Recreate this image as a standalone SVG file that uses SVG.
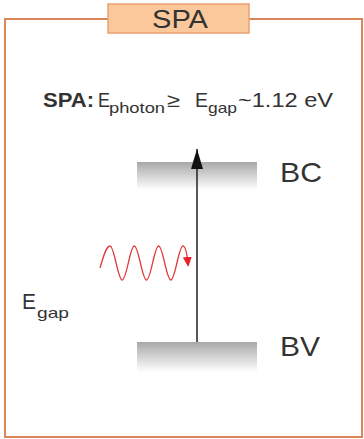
<svg xmlns="http://www.w3.org/2000/svg" width="364" height="439" viewBox="0 0 364 439">
<defs>
<linearGradient id="band" x1="0" y1="0" x2="0" y2="1">
<stop offset="0" stop-color="#a8a8a8"/>
<stop offset="1" stop-color="#ffffff"/>
</linearGradient>
<marker id="blackHead" markerWidth="20" markerHeight="12" refX="20" refY="6" orient="auto" markerUnits="userSpaceOnUse" viewBox="0 0 20 12">
<path d="M0,0 L20,6 L0,12 Z" fill="#111"/>
</marker>
<marker id="redHead" markerWidth="10" markerHeight="9" refX="7" refY="4.5" orient="auto" markerUnits="userSpaceOnUse" viewBox="0 0 10 9">
<path d="M0,0 L10,4.5 L0,9 Z" fill="#e8202a"/>
</marker>
</defs>
<style>
.t{font-family:"Liberation Sans",Arial,sans-serif;fill:#333}
.frame{fill:none;stroke:#d9875a;stroke-width:2}
.title{fill:#fbc89c;stroke:#e9a272;stroke-width:1.5}
</style>
<rect width="364" height="439" fill="#fff"/>
<g id="frame">
<path class="frame" d="M108,19 H5 V437 H362 V19 H249"/>
</g>
<g id="title">
<rect class="title" x="108" y="4" width="141" height="29"/>
<text class="t" x="152" y="28" font-size="25" textLength="56" lengthAdjust="spacingAndGlyphs">SPA</text>
</g>
<g id="formula">
<text class="t" x="43" y="107" font-size="19.5" font-weight="bold" textLength="51" lengthAdjust="spacingAndGlyphs">SPA:</text>
<text class="t" x="98" y="107" font-size="19.5" textLength="12" lengthAdjust="spacingAndGlyphs">E</text>
<text class="t" x="109" y="113" font-size="15" textLength="56" lengthAdjust="spacingAndGlyphs">photon</text>
<text class="t" x="167" y="107" font-size="19.5" textLength="13" lengthAdjust="spacingAndGlyphs">≥</text>
<text class="t" x="195" y="107" font-size="19.5" textLength="13" lengthAdjust="spacingAndGlyphs">E</text>
<text class="t" x="208" y="113" font-size="15" textLength="29" lengthAdjust="spacingAndGlyphs">gap</text>
<text class="t" x="238" y="107" font-size="19.5" textLength="95" lengthAdjust="spacingAndGlyphs">~1.12 eV</text>
</g>
<g id="BC">
<rect x="137" y="162" width="120" height="28" fill="url(#band)"/>
<text class="t" x="280" y="182" font-size="28" textLength="42" lengthAdjust="spacingAndGlyphs">BC</text>
</g>
<g id="BV">
<rect x="137" y="342" width="120" height="30" fill="url(#band)"/>
<text class="t" x="280" y="356" font-size="28" textLength="40" lengthAdjust="spacingAndGlyphs">BV</text>
</g>
<g id="Egap">
<text class="t" x="22" y="309" font-size="22" textLength="14" lengthAdjust="spacingAndGlyphs">E</text>
<text class="t" x="37" y="318" font-size="15" textLength="32" lengthAdjust="spacingAndGlyphs">gap</text>
</g>
<g id="connectors">
<line x1="197" y1="342" x2="197" y2="149" stroke="#222" stroke-width="1.5" marker-end="url(#blackHead)"/>
<path d="M100,268 C103,258 106,246 110,246 C114.4,246 117.8,280 122.2,280 C126.6,280 130,246 134.3,246 C138.7,246 142.1,280 146.5,280 C150.9,280 154.3,246 158.6,246 C163,246 166.4,280 170.8,280 C175.2,280 178.6,246 183,246 C185.5,246 187,254 188,264" fill="none" stroke="#e03a3a" stroke-width="1.3" marker-end="url(#redHead)"/>
</g>
</svg>
